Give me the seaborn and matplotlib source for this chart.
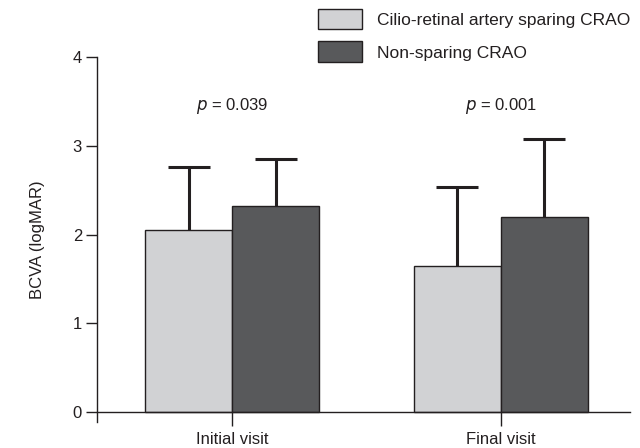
import pandas as pd
import matplotlib
matplotlib.use("Agg")
import matplotlib.pyplot as plt
import seaborn as sns
from matplotlib.patches import Patch

# --- data ---
visits = ["Initial visit", "Final visit"]
groups = ["Cilio-retinal artery sparing CRAO", "Non-sparing CRAO"]
sparing_mean = [2.05, 1.65]
sparing_sd = [0.71, 0.89]
nonsparing_mean = [2.32, 2.20]
nonsparing_sd = [0.53, 0.88]
p_labels = ["0.039", "0.001"]
p_y = [3.45, 3.45]

colors = ["#d1d2d4", "#58595b"]
edge = "#231f20"

df = pd.DataFrame({
    "visit": visits * 2,
    "group": [groups[0]] * 2 + [groups[1]] * 2,
    "bcva": sparing_mean + nonsparing_mean,
    "sd": sparing_sd + nonsparing_sd,
})

sns.set_style("white")
plt.rcParams["font.family"] = ["Liberation Sans", "DejaVu Sans"]

fig = plt.figure(figsize=(6.4, 4.48), dpi=100)
ax = fig.add_axes([0.152, 0.058, 0.832, 0.815])

sns.barplot(data=df, x="visit", y="bcva", hue="group", order=visits,
            hue_order=groups, palette=colors, width=0.647, errorbar=None,
            edgecolor=edge, linewidth=1.0, legend=False, ax=ax)

# upper-only error bars, placed at the bar centres seaborn computed
bars = sorted(ax.patches, key=lambda p: p.get_x())
rows = df.set_index(["visit", "group"])
order_keys = [(v, g) for v in visits for g in groups]
for bar, key in zip(bars, order_keys):
    xc = bar.get_x() + bar.get_width() / 2
    m = rows.loc[key, "bcva"]
    s = rows.loc[key, "sd"]
    eb = ax.errorbar(xc, m, yerr=[[0], [s]], color=edge, elinewidth=2.2,
                     capsize=15, capthick=2.2, zorder=1)
    eb[1][0].set_visible(False)  # hide the lower cap
for b in bars:
    b.set_zorder(2)

for i, (pl, py) in enumerate(zip(p_labels, p_y)):
    ax.text(i, py, r"$p$ = " + pl, ha="center", va="center", fontsize=12,
            color="#231f20")

ax.set_xlim(-0.502, 1.48)
ax.set_ylim(-0.11, 4)
ax.set_yticks([0, 1, 2, 3, 4])
ax.spines["top"].set_visible(False)
ax.spines["right"].set_visible(False)
ax.spines["bottom"].set_position(("data", 0))
for sp in ["left", "bottom"]:
    ax.spines[sp].set_color(edge)
    ax.spines[sp].set_linewidth(1.0)
ax.tick_params(axis="y", direction="out", length=8, width=1, color=edge,
               labelsize=12, left=True, pad=3, labelcolor=edge)
ax.tick_params(axis="x", direction="out", length=10, width=1, color=edge,
               labelsize=12, bottom=True, pad=4, labelcolor=edge)
ax.set_xlabel("")
ax.set_ylabel("BCVA (logMAR)", fontsize=12, labelpad=20, color=edge)

handles = [Patch(facecolor=c, edgecolor=edge, linewidth=1.0) for c in colors]
fig.legend(handles, groups, loc="upper left", bbox_to_anchor=(0.484, 1.0),
           frameon=False, fontsize=12.5, handlelength=2.5, handleheight=1.45,
           handletextpad=0.85, labelspacing=0.7, borderaxespad=0.1,
           labelcolor=edge)

fig.savefig("out.png", dpi=100)
